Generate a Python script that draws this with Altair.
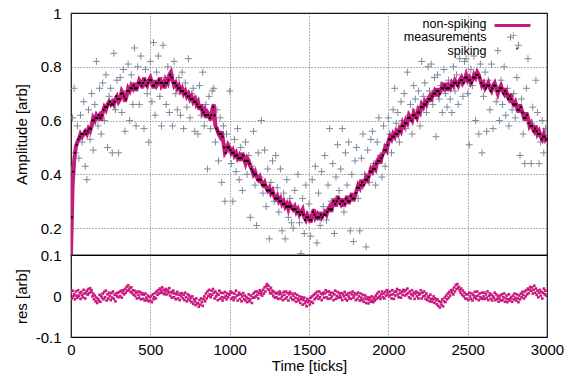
import altair as alt
import pandas as pd

# ---------------- data ----------------
line_t = list(range(0, 3001, 10))
non_spiking = [
    0.10, 0.36, 0.45, 0.50, 0.52, 0.53, 0.55, 0.54, 0.55, 0.56,
    0.55, 0.57, 0.56, 0.58, 0.61, 0.60, 0.62, 0.61, 0.62, 0.60,
    0.63, 0.65, 0.64, 0.66, 0.67, 0.66, 0.67, 0.66, 0.68, 0.69,
    0.67, 0.68, 0.71, 0.70, 0.67, 0.69, 0.72, 0.71, 0.73, 0.72,
    0.74, 0.71, 0.73, 0.75, 0.74, 0.72, 0.76, 0.74, 0.73, 0.75,
    0.76, 0.74, 0.72, 0.75, 0.73, 0.74, 0.76, 0.73, 0.74, 0.72,
    0.75, 0.74, 0.77, 0.78, 0.75, 0.73, 0.74, 0.72, 0.73, 0.71,
    0.72, 0.70, 0.71, 0.69, 0.70, 0.68, 0.69, 0.67, 0.68, 0.66,
    0.67, 0.64, 0.66, 0.63, 0.64, 0.61, 0.63, 0.62, 0.60, 0.64,
    0.66, 0.58, 0.57, 0.55, 0.54, 0.56, 0.52, 0.48, 0.49, 0.51,
    0.50, 0.48, 0.49, 0.47, 0.48, 0.46, 0.47, 0.45, 0.48, 0.46,
    0.44, 0.46, 0.45, 0.43, 0.42, 0.40, 0.41, 0.39, 0.38, 0.39,
    0.37, 0.36, 0.37, 0.35, 0.34, 0.35, 0.33, 0.34, 0.32, 0.31,
    0.32, 0.30, 0.31, 0.29, 0.30, 0.28, 0.29, 0.27, 0.29, 0.28,
    0.27, 0.28, 0.26, 0.27, 0.25, 0.26, 0.27, 0.24, 0.23, 0.25,
    0.24, 0.22, 0.25, 0.27, 0.24, 0.25, 0.23, 0.26, 0.24, 0.25,
    0.26, 0.25, 0.27, 0.28, 0.26, 0.29, 0.31, 0.28, 0.32, 0.30,
    0.29, 0.31, 0.28, 0.30, 0.32, 0.29, 0.31, 0.33, 0.30, 0.32,
    0.34, 0.36, 0.35, 0.38, 0.36, 0.37, 0.39, 0.38, 0.40, 0.42,
    0.41, 0.43, 0.42, 0.45, 0.46, 0.44, 0.47, 0.48, 0.50, 0.49,
    0.52, 0.54, 0.53, 0.55, 0.54, 0.56, 0.55, 0.57, 0.56, 0.59,
    0.58, 0.60, 0.59, 0.62, 0.61, 0.60, 0.63, 0.62, 0.61, 0.64,
    0.63, 0.66, 0.65, 0.67, 0.66, 0.68, 0.69, 0.67, 0.70, 0.71,
    0.69, 0.72, 0.70, 0.71, 0.73, 0.72, 0.74, 0.71, 0.73, 0.72,
    0.74, 0.73, 0.75, 0.74, 0.73, 0.75, 0.76, 0.74, 0.75, 0.77,
    0.75, 0.76, 0.74, 0.75, 0.77, 0.76, 0.78, 0.77, 0.75, 0.73,
    0.74, 0.72, 0.73, 0.74, 0.72, 0.71, 0.73, 0.74, 0.72, 0.70,
    0.72, 0.73, 0.71, 0.70, 0.72, 0.69, 0.68, 0.70, 0.67, 0.66,
    0.67, 0.65, 0.63, 0.66, 0.64, 0.62, 0.60, 0.63, 0.61, 0.58,
    0.59, 0.57, 0.56, 0.58, 0.55, 0.56, 0.54, 0.53, 0.55, 0.53,
    0.54,
]

spk_t = list(range(5, 3000, 10))
spiking = [
    0.24, 0.41, 0.48, 0.51, 0.53, 0.54, 0.55, 0.55, 0.56, 0.55,
    0.56, 0.57, 0.57, 0.60, 0.60, 0.61, 0.61, 0.62, 0.61, 0.62,
    0.64, 0.65, 0.65, 0.66, 0.67, 0.66, 0.66, 0.67, 0.69, 0.68,
    0.68, 0.70, 0.70, 0.69, 0.68, 0.71, 0.71, 0.72, 0.72, 0.73,
    0.72, 0.72, 0.74, 0.74, 0.73, 0.74, 0.75, 0.73, 0.74, 0.75,
    0.75, 0.73, 0.73, 0.74, 0.74, 0.75, 0.74, 0.74, 0.73, 0.74,
    0.74, 0.75, 0.77, 0.76, 0.74, 0.74, 0.73, 0.72, 0.72, 0.71,
    0.71, 0.70, 0.70, 0.69, 0.69, 0.68, 0.68, 0.67, 0.67, 0.66,
    0.65, 0.65, 0.64, 0.63, 0.62, 0.62, 0.62, 0.61, 0.62, 0.65,
    0.62, 0.57, 0.56, 0.55, 0.55, 0.54, 0.50, 0.48, 0.50, 0.50,
    0.49, 0.48, 0.48, 0.47, 0.47, 0.46, 0.46, 0.46, 0.47, 0.45,
    0.45, 0.45, 0.44, 0.42, 0.41, 0.40, 0.40, 0.38, 0.38, 0.38,
    0.36, 0.36, 0.36, 0.34, 0.34, 0.34, 0.33, 0.33, 0.31, 0.31,
    0.31, 0.30, 0.30, 0.29, 0.29, 0.28, 0.28, 0.28, 0.28, 0.27,
    0.27, 0.27, 0.26, 0.26, 0.25, 0.26, 0.25, 0.23, 0.24, 0.24,
    0.23, 0.23, 0.26, 0.25, 0.24, 0.24, 0.24, 0.25, 0.24, 0.25,
    0.25, 0.26, 0.27, 0.27, 0.27, 0.30, 0.29, 0.30, 0.31, 0.29,
    0.30, 0.30, 0.29, 0.31, 0.30, 0.30, 0.32, 0.31, 0.31, 0.33,
    0.35, 0.35, 0.36, 0.37, 0.36, 0.38, 0.38, 0.39, 0.41, 0.41,
    0.42, 0.42, 0.44, 0.45, 0.45, 0.46, 0.47, 0.49, 0.49, 0.51,
    0.53, 0.53, 0.54, 0.54, 0.55, 0.55, 0.56, 0.56, 0.58, 0.58,
    0.59, 0.59, 0.61, 0.61, 0.60, 0.62, 0.62, 0.61, 0.63, 0.63,
    0.65, 0.65, 0.66, 0.66, 0.67, 0.68, 0.68, 0.69, 0.70, 0.70,
    0.71, 0.71, 0.70, 0.72, 0.72, 0.73, 0.72, 0.72, 0.72, 0.73,
    0.73, 0.74, 0.74, 0.73, 0.74, 0.75, 0.75, 0.74, 0.76, 0.76,
    0.75, 0.75, 0.74, 0.76, 0.76, 0.77, 0.77, 0.76, 0.74, 0.73,
    0.73, 0.72, 0.73, 0.73, 0.71, 0.72, 0.73, 0.73, 0.71, 0.71,
    0.72, 0.72, 0.70, 0.71, 0.70, 0.68, 0.69, 0.68, 0.66, 0.66,
    0.66, 0.64, 0.64, 0.65, 0.63, 0.61, 0.61, 0.62, 0.59, 0.58,
    0.58, 0.56, 0.57, 0.56, 0.55, 0.55, 0.53, 0.54, 0.54, 0.53,
]

meas_t = list(range(0, 3000, 10))
measurements = [
    0.42, 0.61, 0.72, 0.48, 0.58, 0.46, 0.62, 0.52, 0.67, 0.43,
    0.38, 0.64, 0.53, 0.70, 0.49, 0.66, 0.82, 0.58, 0.72, 0.55,
    0.74, 0.60, 0.77, 0.50, 0.69, 0.72, 0.48, 0.85, 0.64, 0.75,
    0.48, 0.76, 0.63, 0.79, 0.56, 0.71, 0.81, 0.60, 0.77, 0.66,
    0.87, 0.58, 0.80, 0.66, 0.84, 0.73, 0.57, 0.79, 0.70, 0.52,
    0.82, 0.67, 0.89, 0.62, 0.78, 0.84, 0.69, 0.58, 0.88, 0.76,
    0.66, 0.80, 0.63, 0.77, 0.58, 0.82, 0.70, 0.64, 0.76, 0.62,
    0.78, 0.57, 0.74, 0.65, 0.83, 0.61, 0.70, 0.72, 0.56, 0.68,
    0.55, 0.73, 0.62, 0.78, 0.58, 0.66, 0.42, 0.69, 0.57, 0.71,
    0.72, 0.52, 0.64, 0.45, 0.61, 0.37, 0.58, 0.30, 0.55, 0.49,
    0.71, 0.44, 0.30, 0.53, 0.41, 0.57, 0.38, 0.50, 0.34, 0.46,
    0.52, 0.40, 0.47, 0.24, 0.43, 0.56, 0.36, 0.21, 0.48, 0.39,
    0.60, 0.33, 0.49, 0.28, 0.42, 0.16, 0.37, 0.45, 0.30, 0.47,
    0.35, 0.26, 0.42, 0.19, 0.33, 0.16, 0.38, 0.24, 0.31, 0.22,
    0.20, 0.34, 0.27, 0.40, 0.22, 0.105, 0.31, 0.18, 0.36, 0.25,
    0.29, 0.17, 0.38, 0.26, 0.43, 0.145, 0.33, 0.21, 0.41, 0.28,
    0.47, 0.23, 0.36, 0.57, 0.30, 0.44, 0.18, 0.39, 0.51, 0.34,
    0.42, 0.57, 0.26, 0.48, 0.36, 0.52, 0.19, 0.40, 0.15, 0.45,
    0.50, 0.31, 0.19, 0.46, 0.55, 0.40, 0.13, 0.49, 0.37, 0.53,
    0.56, 0.44, 0.36, 0.52, 0.61, 0.47, 0.39, 0.58, 0.43, 0.51,
    0.61, 0.55, 0.48, 0.64, 0.72, 0.59, 0.63, 0.52, 0.67, 0.60,
    0.70, 0.57, 0.78, 0.62, 0.66, 0.55, 0.73, 0.68, 0.64, 0.71,
    0.58, 0.82, 0.69, 0.74, 0.63, 0.80, 0.71, 0.81, 0.66, 0.76,
    0.54, 0.77, 0.68, 0.73, 0.63, 0.79, 0.70, 0.65, 0.75, 0.68,
    0.63, 0.80, 0.71, 0.77, 0.66, 0.83, 0.74, 0.69, 0.82, 0.83,
    0.70, 0.51, 0.79, 0.73, 0.84, 0.60, 0.77, 0.55, 0.81, 0.48,
    0.69, 0.78, 0.56, 0.75, 0.64, 0.81, 0.57, 0.72, 0.67, 0.86,
    0.60, 0.75, 0.66, 0.80, 0.62, 0.72, 0.58, 0.91, 0.64, 0.70,
    0.61, 0.76, 0.88, 0.47, 0.68, 0.55, 0.44, 0.72, 0.83, 0.59,
    0.44, 0.65, 0.58, 0.75, 0.63, 0.44, 0.52, 0.60, 0.48, 0.57,
]

res_t = list(range(0, 3000, 5))
res_milli = [
    8, -6, 13, -1, 4, -8, 11, 1, -4, 14, 0, 7, -7, 10, 3, -3, 15, 6, -6, 8,
    13, 3, 17, 7, 19, 10, 14, -1, 6, -8, 1, -13, -4, -17, -7, -11, 3, -14, 0, -4,
    6, -8, 10, -3, 13, -11, 4, -6, 8, 0, -10, 7, -4, 11, -7, 3, -13, 6, -1, 8,
    -3, 10, 0, 13, -4, 8, 14, 4, 17, 8, 22, 13, 26, 15, 20, 10, 21, 7, 14, 3,
    13, 0, 8, -6, 11, 3, -4, 10, -8, 4, 7, -7, 3, -11, 6, -4, -10, 1, -13, -3,
    -11, -1, -15, 4, -8, -3, 7, -6, 11, 3, 14, 6, 18, 8, 13, 21, 7, 15, 4, 11,
    17, 4, 13, 8, 19, 1, 10, -4, 7, 13, -3, 6, -8, 4, 10, -6, 3, -10, 6, -1,
    7, -6, 3, -10, 8, -3, -13, 4, -7, 1, -11, -4, -15, -1, -19, -8, -13, -22, -6, -17,
    -18, -26, -10, -21, -6, -15, -24, -8, -1, -13, 6, -6, 11, 0, 15, 4, -3, 13, 3, 17,
    8, -6, 11, -1, 6, -10, 3, 13, -7, 8, -3, -11, 7, -4, 10, 0, -8, 6, -3, 4,
    4, 11, -7, 8, -3, -10, 6, -4, 13, 1, -11, 3, 8, -7, 4, -13, -1, 7, -8, 1,
    -11, -3, -15, -6, 4, -13, -8, 1, -17, -4, 6, -4, 10, -1, 11, 3, -6, 8, 14, 4,
    10, 1, 15, 6, 21, 11, 24, 29, 17, 25, 14, 7, 20, 6, 13, 0, 10, -4, 6, -3,
    8, -7, 4, 11, -6, 6, -1, -10, 10, 3, -7, 11, -3, 7, -11, 4, 10, -4, 6, -8,
    1, -10, 6, -4, -14, 3, -7, -11, -1, -17, -8, -3, -21, -10, -4, -18, -13, -25, -7, -15,
    -11, -21, -4, -14, -1, -17, 3, -8, 6, -4, 10, 1, -7, 11, -3, 6, -10, 4, 8, -4,
    6, 14, -3, 10, -7, 11, 3, -6, 8, -1, 7, -10, 4, 13, -7, 0, 10, -4, 7, 1,
    -4, 7, -10, 4, -1, 10, -7, 3, -11, 6, -1, -6, 8, -7, 4, 11, -4, 1, 7, -10,
    4, -7, 8, -1, -11, 6, -4, -10, 3, -14, -6, 1, -17, -8, -3, -18, -10, -4, -14, -1,
    -10, -15, -4, -11, 1, -7, 6, -4, 10, -1, -7, 4, 11, -3, 6, -6, 10, 1, 14, 4,
    10, -1, 11, 3, -6, 14, 4, -7, 10, 1, 11, 17, 4, -3, 14, 7, -4, 11, 3, 15,
    11, 1, 14, 4, 18, 7, -3, 11, -6, 4, 14, 1, 8, -7, 6, 11, -1, 8, -6, 3,
    6, 14, -6, 8, -1, 11, 1, -7, 6, -10, -1, -4, -13, 3, -7, -14, -8, -1, -17, -6,
    -11, -20, -8, -24, -13, -28, -15, -21, -8, -25, -13, -4, -15, 1, -8, 6, -4, 10, 1, 14,
    8, 15, 4, 21, 11, 27, 17, 29, 20, 22, 14, 8, 18, 3, 13, -1, 8, -6, 4, -7,
    4, -10, 8, -1, -7, 6, -11, 3, -4, 10, -1, -7, 11, 1, -10, 6, -3, -6, 8, -7,
    -1, 8, -7, 4, -4, 11, -10, 0, 6, -7, 3, -11, -1, -4, 8, -10, 4, -7, 0, -14,
    -6, 1, -11, 4, -10, -3, 6, -14, -6, 1, -15, -8, 4, -11, -6, -3, -14, 1, -8, 6,
    -4, -11, 4, -6, -15, 1, -8, 6, -3, 10, 3, -6, 11, -1, 14, 4, 18, 7, 15, 22,
    13, 21, 6, 15, 25, 8, 18, 3, 13, -3, 8, 15, 1, 10, -6, 8, 18, 4, 13, 1,
]

x_ticks = [0, 500, 1000, 1500, 2000, 2500, 3000]
amp_ticks = [0.1, 0.2, 0.4, 0.6, 0.8, 1.0]
res_ticks = [-0.1, 0.0]

# ---------------- styling ----------------
FONT = "Liberation Sans"
MAG = "#c9197f"
SLATE = "#7a8b9b"
CROSS = "M-1,0L1,0M0,-1L0,1"

df_line = pd.DataFrame({"t": line_t, "v": non_spiking, "s": "non-spiking"})
df_meas = pd.DataFrame({"t": meas_t, "v": measurements, "s": "measurements"})
df_spk = pd.DataFrame({"t": spk_t, "v": spiking, "s": "spiking"})
for d in (df_line, df_meas, df_spk):
    d["lab"] = d["s"]
df_res = pd.DataFrame({"t": res_t, "r": [m / 1000 for m in res_milli]})

xscale = alt.Scale(domain=[0, 3000], nice=False, zero=False)
yscale = alt.Scale(domain=[0.1, 1.0], nice=False, zero=False)
rscale = alt.Scale(domain=[-0.1, 0.1], nice=False, zero=False)

x_top = alt.X("t:Q", scale=xscale,
              axis=alt.Axis(values=x_ticks, labels=False, ticks=False, domain=False,
                            title=None, grid=True))
y_top = alt.Y("v:Q", scale=yscale,
              axis=alt.Axis(values=amp_ticks, format="~g", title="Amplitude [arb]",
                            titleX=-45, titleBaseline="alphabetic", grid=True))

LABEL_X = 403


def sym_legend(symbol, size, stroke_w, lx, ly):
    # legend entry that shows only the key symbol
    return alt.Legend(title=None, orient="none", legendX=lx, legendY=ly,
                      symbolType=symbol, symbolSize=size, symbolStrokeWidth=stroke_w,
                      labelExpr="''", labelOffset=0, padding=0)


def text_legend(ly):
    # legend entry that shows only the key text, right aligned
    return alt.Legend(title=None, orient="none", legendX=LABEL_X, legendY=ly,
                      symbolSize=1, symbolOpacity=0, symbolStrokeWidth=0,
                      labelAlign="right", labelOffset=0, labelFont=FONT,
                      labelFontSize=12.5, labelColor="black", padding=0)


def keyed(colour, symbol, size, stroke_w, lx, sy, ty):
    return dict(
        color=alt.Color("s:N", scale=alt.Scale(range=[colour]),
                        legend=sym_legend(symbol, size, stroke_w, lx, sy)),
        opacity=alt.Opacity("lab:N", scale=alt.Scale(range=[1]),
                            legend=text_legend(ty)),
    )


line = alt.Chart(df_line).mark_line(strokeWidth=4, clip=True).encode(
    x=x_top, y=y_top, **keyed(MAG, "stroke", 1296, 3, 422, -7, 4.25))

meas = alt.Chart(df_meas).mark_point(shape=CROSS, filled=False, size=49,
                                     strokeWidth=1, clip=True).encode(
    x=x_top, y=y_top, **keyed(SLATE, CROSS, 49, 1, 437.5, 17.5, 17.75))

spk = alt.Chart(df_spk).mark_square(size=4, clip=True).encode(
    x=x_top, y=y_top, **keyed("black", "square", 4, 0, 441, 30.5, 31.25))

top = alt.layer(meas, line, spk).resolve_scale(
    color="independent", opacity="independent").properties(width=476, height=242)

bottom = alt.Chart(df_res).mark_square(size=7, opacity=1, color=MAG, clip=True).encode(
    x=alt.X("t:Q", scale=xscale,
            axis=alt.Axis(values=x_ticks, format="d", ticks=False, domain=False, grid=True,
                          labelFlush=False, title="Time [ticks]", labelPadding=5,
                          titleBaseline="alphabetic", titleY=33)),
    y=alt.Y("r:Q", scale=rscale,
            axis=alt.Axis(values=res_ticks, grid=False, title="res [arb]",
                          titleX=-45, titleBaseline="alphabetic",
                          labelExpr="datum.value < 0 ? '-' + format(-datum.value, '~g') : format(datum.value, '~g')")),
).properties(width=476, height=82)

chart = alt.vconcat(top, bottom, spacing=0, bounds="flush").properties(
    padding={"left": 13, "top": 5, "right": 5, "bottom": 0}
).configure_axis(
    labelFont=FONT, labelFontSize=15, labelColor="black",
    titleFont=FONT, titleFontSize=15, titleFontWeight="normal", titleColor="black",
    labelPadding=10, ticks=False, domain=False,
    gridColor="#555555", gridDash=[1, 2], gridWidth=1, gridOpacity=0.9,
).configure_view(stroke="black", strokeWidth=1.2)

chart.save("out.html", embed_options={"renderer": "svg", "actions": False})
